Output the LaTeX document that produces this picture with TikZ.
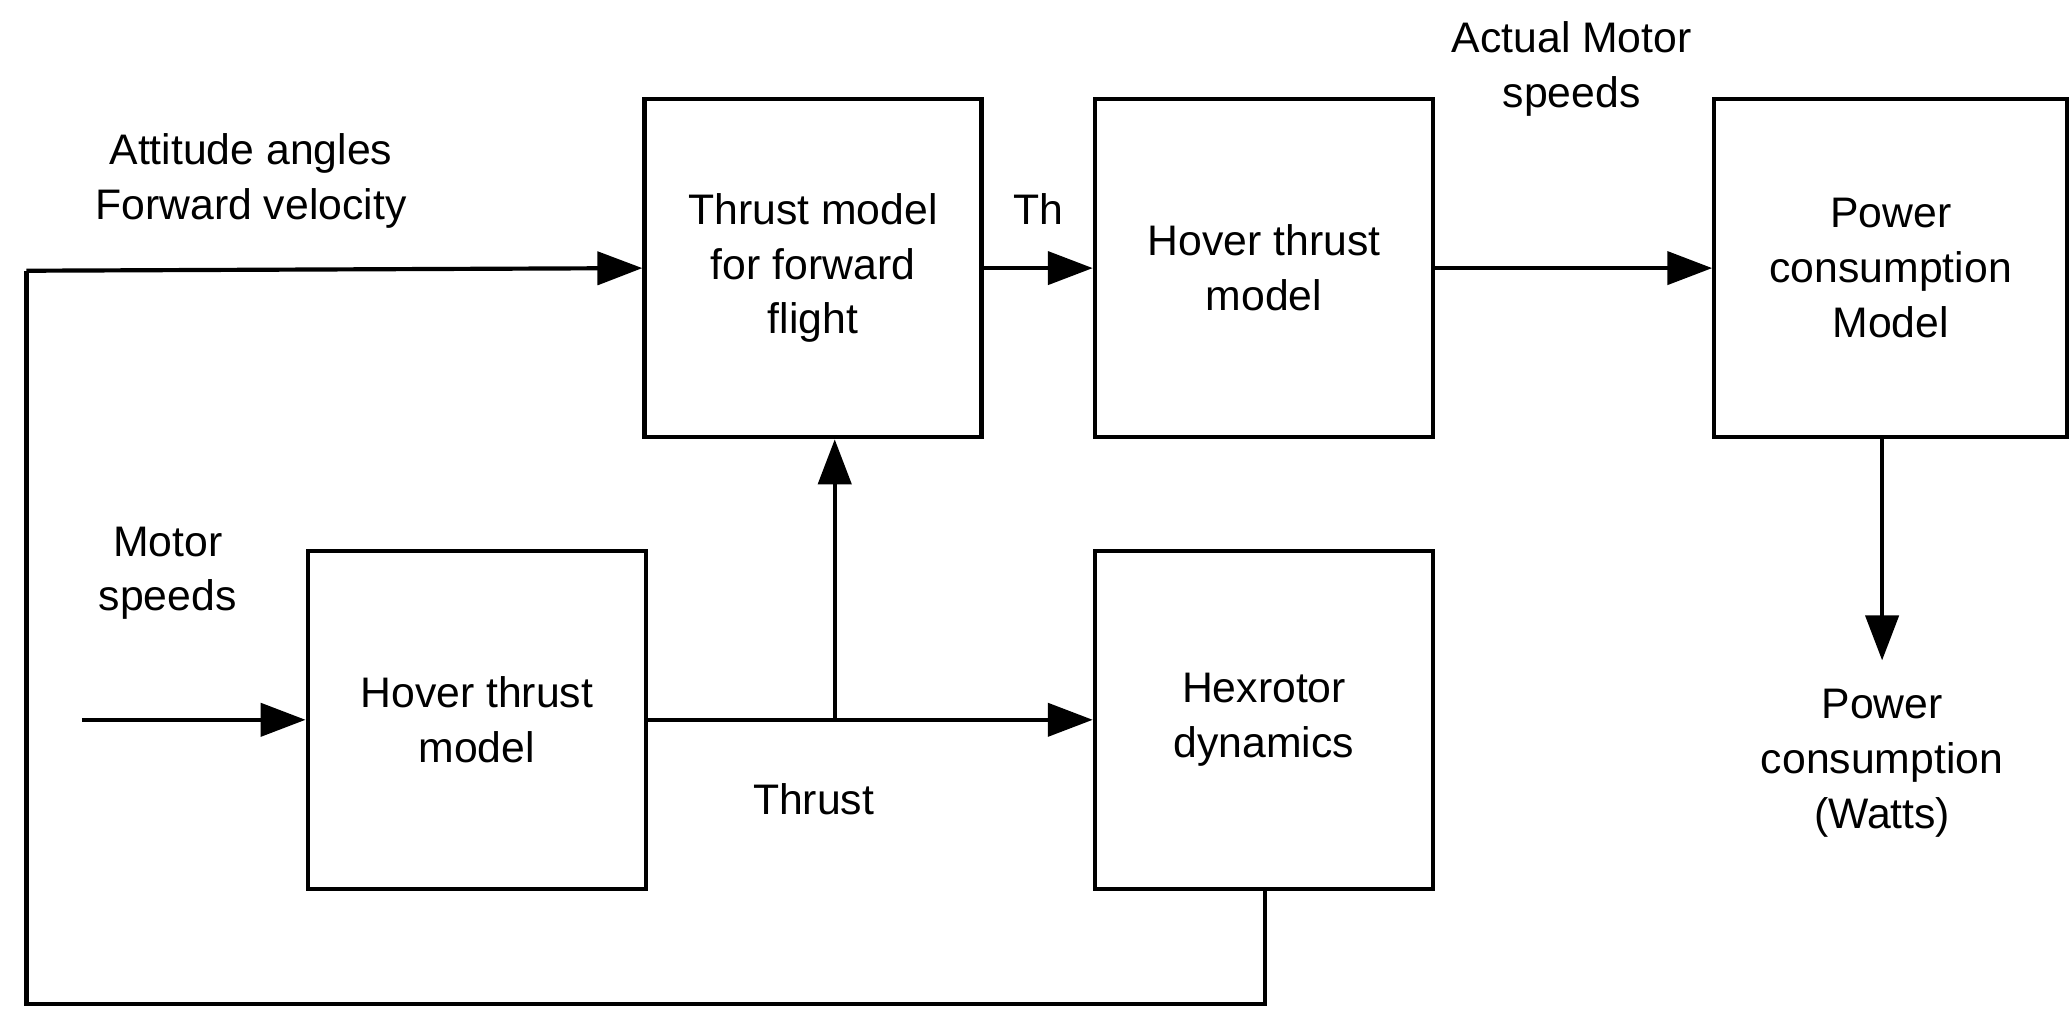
\documentclass[tikz,border=0pt]{standalone}
\usepackage{fontspec}
\setmainfont{Liberation Sans}
\usetikzlibrary{arrows.meta}
\begin{document}
\begin{tikzpicture}[x=0.01cm,y=-0.01cm,
  box/.style={draw,line width=0.9pt,align=center,inner sep=0pt},
  lab/.style={align=center,font=\fontsize{9.2}{11.8}\selectfont},
  conn/.style={line width=0.9pt,-{Triangle[length=0.34cm,width=0.25cm]}},
  line/.style={line width=0.9pt}]
\useasboundingbox (0,0) rectangle (1568,780);
\def\bx#1#2#3#4#5#6{\node[box,lab,minimum width=#4*0.01cm-0*0.01cm,minimum height=256*0.01cm] (#1) at (#2,#3) {#5};}
\node[box,lab,minimum width=2.55cm,minimum height=2.56cm] (tm) at (615.5,203) {Thrust model\\for forward\\flight};
\node[box,lab,minimum width=2.56cm,minimum height=2.56cm] (ht) at (957,203) {Hover thrust\\model};
\node[box,lab,minimum width=2.67cm,minimum height=2.56cm] (pc) at (1431.5,203) {Power\\consumption\\Model};
\node[box,lab,minimum width=2.56cm,minimum height=2.56cm] (hb) at (361,545) {Hover thrust\\model};
\node[box,lab,minimum width=2.56cm,minimum height=2.56cm] (hx) at (957,545) {Hexrotor\\dynamics};
\coordinate (ms) at (62,545);
\coordinate (br) at (632,545);
\coordinate (fb1) at (958,760);
\coordinate (fb2) at (20,760);
\coordinate (fb3) at (20,205);
\coordinate (pw) at (1425,500);
\draw[conn] (ms) -- (hb.west);
\draw[conn] (hb.east) -- (hx.west);
\draw[conn] (br) -- (tm.south -| br);
\draw[conn] (tm.east) -- (ht.west);
\draw[conn] (ht.east) -- (pc.west);
\draw[conn] (pc.south -| pw) -- (pw);
\draw[line] (hx.south -| fb1) -- (fb1) -- (fb2) -- (fb3);
\draw[conn] (fb3) -- (tm.west);
\node[lab] (l1) at (190,137) {Attitude angles\\Forward velocity};
\node[lab] (l2) at (127,434) {Motor\\speeds};
\node[lab] (l3) at (616,605) {Thrust};
\node[lab] (l4) at (786,158) {Th};
\node[lab] (l5) at (1190,52) {Actual Motor\\speeds};
\node[lab] (l6) at (1425,578) {Power\\consumption\\(Watts)};
\end{tikzpicture}
\end{document}
